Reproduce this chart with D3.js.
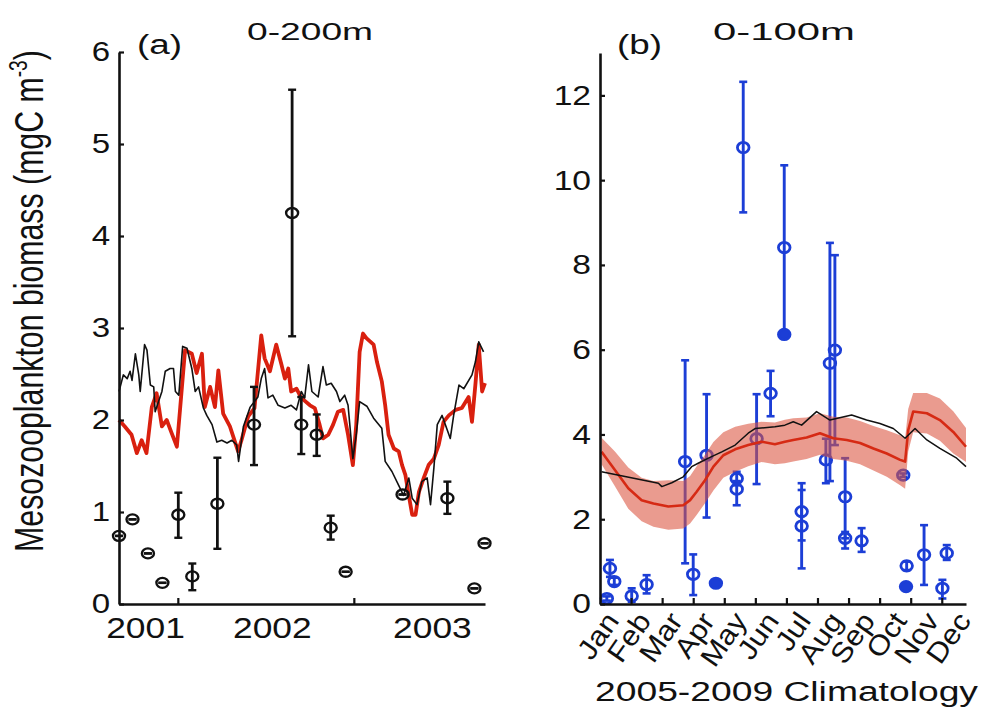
<!DOCTYPE html>
<html><head><meta charset="utf-8">
<script src="https://cdn.jsdelivr.net/npm/d3@7"></script>
<style>
body{margin:0;background:#fff}
svg text{font-family:"Liberation Sans",Arial,Helvetica,sans-serif;fill:#111}
</style></head>
<body><svg id="c" width="983" height="708"></svg>
<script>
// ---------- Panel (a): 0-200m time series ----------
const seriesStart = "2001-09-01";           // day 0 of the day offsets below
const yearTickDates = ["2002-01-01","2003-01-01"];
const yearLabels = ["2001","2002","2003"];
const yearLabelDates = ["2001-10-26","2002-07-16","2003-06-13"];
const yTicksA = [0,1,2,3,4,5,6];

const redDaysA = [0,12,26,37,47,57,68,78,89,99,109,120,127,137,151,161,172,178,189,199,206,216,230,247,254,268,281,295,302,313,326,337,344,351,357,368,378,396,406,416,423,434,444,454,465,475,485,492,499,506,513,528,535,545,552,559,570,580,587,594,601,608,615,622,632,642,653,663,673,684,698,711,725,732,739,746,753,759];
const redValsA = [2.00,1.93,1.84,1.64,1.78,1.64,2.14,2.29,1.93,2.00,1.86,1.71,2.14,2.76,2.72,2.51,2.72,2.14,2.36,2.14,2.54,2.07,1.93,1.66,1.78,2.04,2.13,2.92,2.67,2.53,2.82,2.60,2.45,2.56,2.31,2.34,2.24,2.16,2.13,1.95,1.80,1.84,1.95,2.09,2.11,1.84,1.51,1.95,2.74,2.94,2.89,2.82,2.63,2.42,2.16,1.84,1.69,1.66,1.51,1.40,1.18,0.97,0.97,1.22,1.37,1.51,1.58,1.73,1.98,2.05,2.11,2.13,2.25,1.98,2.38,2.82,2.31,2.40];

const blackDaysA = [0,9,17,23,27,34,41,44,53,58,65,72,75,82,89,96,106,113,117,124,132,141,151,158,165,175,182,193,203,213,224,234,244,248,258,272,288,295,302,309,319,330,344,357,368,378,385,393,400,413,423,430,440,451,458,468,475,485,492,499,514,528,545,552,566,580,590,601,608,618,628,639,646,653,660,670,687,694,705,715,732,739,746,756];
const blackValsA = [2.31,2.49,2.45,2.53,2.43,2.72,2.49,2.31,2.82,2.76,2.38,2.36,2.09,2.20,2.31,2.53,2.56,2.56,2.31,2.27,2.80,2.78,2.56,2.31,2.36,2.13,2.05,1.95,1.76,1.78,1.75,1.78,1.73,1.55,1.93,2.14,2.25,2.45,2.56,2.24,2.27,2.16,2.13,2.16,2.11,2.31,2.24,2.60,2.31,2.25,2.58,2.38,2.40,2.31,2.20,2.27,2.16,1.58,1.84,2.20,2.15,2.02,1.91,1.55,1.44,1.29,1.18,1.37,1.15,1.08,1.33,1.37,1.08,1.48,1.95,2.05,1.80,2.05,2.38,2.34,2.49,2.63,2.85,2.74];

const obsDaysA = [0,28,60,90,123,152,204,280,359,378,410,439,470,588,681,737,758];
const obsValsA = [0.74,0.92,0.55,0.23,0.97,0.30,1.09,1.95,4.25,1.95,1.84,0.83,0.35,1.19,1.15,0.17,0.66];
const obsLoA   = [0.74,0.92,0.55,0.23,0.72,0.15,0.60,1.51,2.91,1.63,1.61,0.70,0.35,1.19,0.98,0.17,0.66];
const obsHiA   = [0.74,0.92,0.55,0.23,1.21,0.44,1.59,2.36,5.59,2.25,2.06,0.96,0.35,1.19,1.33,0.17,0.66];

// ---------- Panel (b): 0-100m climatology (x in months from 1 Jan) ----------
const monthLabels = ["Jan","Feb","Mar","Apr","May","Jun","Jul","Aug","Sep","Oct","Nov","Dec"];
const monthTicks = [1,2,3,4,5,6,7,8,9,10,11];
const yTicksB = [0,2,4,6,8,10,12];

const climMonths = [0.05,0.48,0.91,1.34,1.72,2.20,2.68,2.90,3.11,3.38,3.65,3.97,4.35,4.77,5.20,5.63,5.95,6.22,6.65,7.08,7.51,7.94,8.37,8.80,9.23,9.66,9.82,9.92,10.08,10.52,10.94,11.37,11.78];
const climMean  = [3.59,3.16,2.73,2.45,2.37,2.30,2.33,2.45,2.65,2.92,3.24,3.51,3.65,3.75,3.83,3.77,3.83,3.87,3.93,4.03,3.91,3.87,3.80,3.67,3.55,3.40,3.36,4.10,4.54,4.50,4.34,4.06,3.71];
const climUpper = [3.92,3.60,3.22,2.98,2.90,2.92,2.90,3.02,3.25,3.52,3.82,4.05,4.18,4.25,4.30,4.28,4.35,4.38,4.40,4.50,4.42,4.40,4.32,4.20,4.10,3.98,3.90,4.60,4.98,4.98,4.85,4.55,4.15];
const climLower = [3.30,2.78,2.25,1.95,1.82,1.75,1.78,1.90,2.10,2.38,2.68,2.98,3.12,3.25,3.35,3.30,3.32,3.36,3.42,3.52,3.42,3.38,3.30,3.15,3.00,2.80,2.72,3.60,4.05,4.02,3.85,3.55,3.35];

const climBlackMonths = [0.05,1.88,1.99,2.31,2.68,2.95,3.16,3.49,3.92,4.35,4.77,4.99,5.63,5.95,6.22,6.49,6.97,7.40,8.10,8.58,9.01,9.44,9.82,10.14,10.52,10.94,11.48,11.78];
const climBlack = [3.12,2.85,2.77,2.86,3.00,3.24,3.32,3.44,3.59,3.75,4.03,4.14,4.18,4.22,4.30,4.22,4.54,4.34,4.46,4.34,4.26,4.14,3.91,4.14,3.87,3.67,3.44,3.24];

const ptMonthB = [0.22,0.32,0.46,1.02,1.50,2.74,3.00,3.43,3.73,4.40,4.40,4.61,5.04,5.49,5.93,5.93,6.49,6.49,7.27,7.40,7.56,7.89,7.89,8.42,9.76,9.87,9.85,10.43,11.02,11.16];
const ptValB   = [0.13,0.84,0.53,0.19,0.46,3.36,0.70,3.51,0.49,2.96,2.71,10.77,3.90,4.97,8.41,6.36,2.18,1.84,3.40,5.68,5.99,2.53,1.55,1.49,3.04,0.90,0.41,1.16,0.37,1.20];
const ptLoB    = [0.08,0.64,0.45,0.05,0.25,0.96,0.21,2.04,0.49,2.80,2.33,9.24,2.83,4.43,6.34,6.36,0.84,1.50,2.85,2.90,3.75,1.55,1.31,1.23,3.00,0.80,0.41,0.45,0.13,1.04];
const ptHiB    = [0.18,1.04,0.62,0.37,0.68,5.75,1.17,4.95,0.49,3.12,2.90,12.32,4.95,5.50,10.35,6.36,2.85,2.69,3.90,8.52,8.23,3.44,1.70,1.79,3.08,1.00,0.41,1.86,0.57,1.39];
const ptFilledB= [0,0,0,0,0,0,0,0,1,0,0,0,0,0,0,1,0,0,0,0,0,0,0,0,0,0,1,0,0,0];

// ---------- drawing ----------
const svg = d3.select("#c");
const parse = d3.timeParse("%Y-%m-%d");
const t0 = parse(seriesStart);
const dayDate = d => d3.timeDay.offset(t0, d);

function stretch(sel, k){
  sel.each(function(){
    const w = this.getComputedTextLength();
    d3.select(this).attr("textLength", w*k).attr("lengthAdjust","spacingAndGlyphs");
  });
}
function fitWidth(sel, target){
  sel.attr("textLength", target).attr("lengthAdjust","spacingAndGlyphs");
}
function styleAxis(g){
  g.select(".domain").attr("stroke","#111").attr("stroke-width",2.6);
  g.selectAll(".tick line").attr("stroke","#111").attr("stroke-width",2.2);
  g.selectAll(".tick text").style("font-size","28px").attr("fill","#111");
}

// Panel A scales
const xA = d3.scaleTime().domain([t0, dayDate(759)]).range([119,485]);
const yA = d3.scaleLinear().domain([0,6]).range([604,52]);

const gA = svg.append("g");
const lineA = (days, vals) => d3.line().x((d,i)=>xA(dayDate(days[i]))).y(d=>yA(d))(vals);
gA.append("path").attr("d", lineA(redDaysA, redValsA)).attr("fill","none")
  .attr("stroke","#d9200f").attr("stroke-width",3.8).attr("stroke-linejoin","round");
gA.append("path").attr("d", lineA(blackDaysA, blackValsA)).attr("fill","none")
  .attr("stroke","#111").attr("stroke-width",1.6).attr("stroke-linejoin","round");

const ptsA = gA.append("g").selectAll("g").data(obsValsA).join("g");
ptsA.append("line").attr("x1",(d,i)=>xA(dayDate(obsDaysA[i]))).attr("x2",(d,i)=>xA(dayDate(obsDaysA[i])))
  .attr("y1",(d,i)=>yA(obsLoA[i])).attr("y2",(d,i)=>yA(obsHiA[i])).attr("stroke","#111").attr("stroke-width",2.8);
[obsLoA, obsHiA].forEach(arr=>{
  ptsA.append("line").attr("x1",(d,i)=>xA(dayDate(obsDaysA[i]))-4).attr("x2",(d,i)=>xA(dayDate(obsDaysA[i]))+4)
    .attr("y1",(d,i)=>yA(arr[i])).attr("y2",(d,i)=>yA(arr[i])).attr("stroke","#111").attr("stroke-width",2.4);
});
ptsA.append("ellipse").attr("cx",(d,i)=>xA(dayDate(obsDaysA[i]))).attr("cy",d=>yA(d))
  .attr("rx",6).attr("ry",5).attr("fill","none").attr("stroke","#111").attr("stroke-width",2.4);

const axYA = gA.append("g").attr("transform","translate(119,0)")
  .call(d3.axisLeft(yA).tickValues(yTicksA).tickFormat(d3.format("d")).tickSizeInner(-5).tickSizeOuter(0).tickPadding(9));
styleAxis(axYA); stretch(axYA.selectAll(".tick text"), 1.18);
const axXA = gA.append("g").attr("transform","translate(0,604)")
  .call(d3.axisBottom(xA).tickValues(yearTickDates.map(parse)).tickFormat("").tickSizeInner(-6).tickSizeOuter(0));
styleAxis(axXA);
gA.append("g").selectAll("text").data(yearLabels).join("text")
  .attr("x",(d,i)=>xA(parse(yearLabelDates[i]))).attr("y",638).attr("text-anchor","middle")
  .style("font-size","29px").text(d=>d).call(s=>stretch(s,1.22));

svg.append("text").attr("x",310).attr("y",40).attr("text-anchor","middle").style("font-size","24px")
  .text("0-200m").call(s=>fitWidth(s,126));
svg.append("text").attr("x",159.5).attr("y",54).attr("text-anchor","middle").style("font-size","27px")
  .text("(a)").call(s=>fitWidth(s,45));

const yl = svg.append("text").attr("text-anchor","middle").style("font-size","41px");
yl.append("tspan").text("Mesozooplankton biomass (mgC m");
yl.append("tspan").text("-3").style("font-size","26px").attr("dy",-16);
yl.append("tspan").text(")").attr("dy",16);
{
  const w = yl.node().getComputedTextLength();
  const k = 502 / w;
  yl.attr("transform",`translate(43,301) rotate(-90) scale(${k},1)`);
}

// Panel B
const xB = d3.scaleLinear().domain([0,11.78]).range([600,966]);
const yB = d3.scaleLinear().domain([0,13]).range([604,53]);
const gB = svg.append("g");
const blue = "#1c3ed6";

const ptsB = gB.append("g").selectAll("g").data(ptValB).join("g");
ptsB.append("line").attr("x1",(d,i)=>xB(ptMonthB[i])).attr("x2",(d,i)=>xB(ptMonthB[i]))
  .attr("y1",(d,i)=>yB(ptLoB[i])).attr("y2",(d,i)=>yB(ptHiB[i])).attr("stroke",blue).attr("stroke-width",2.9);
[ptLoB, ptHiB].forEach(arr=>{
  ptsB.append("line").attr("x1",(d,i)=>xB(ptMonthB[i])-4).attr("x2",(d,i)=>xB(ptMonthB[i])+4)
    .attr("y1",(d,i)=>yB(arr[i])).attr("y2",(d,i)=>yB(arr[i])).attr("stroke",blue).attr("stroke-width",2.6);
});
ptsB.append("ellipse").attr("cx",(d,i)=>xB(ptMonthB[i])).attr("cy",d=>yB(d))
  .attr("rx",5.8).attr("ry",5.2).attr("fill",(d,i)=>ptFilledB[i]?blue:"none").attr("stroke",blue).attr("stroke-width",2.8);

gB.append("path").attr("d", d3.area().x((d,i)=>xB(climMonths[i])).y0((d,i)=>yB(climLower[i])).y1(d=>yB(d))(climUpper))
  .attr("fill","rgb(218,82,62)").attr("fill-opacity",0.58).attr("stroke","none");
gB.append("path").attr("d", d3.line().x((d,i)=>xB(climMonths[i])).y(d=>yB(d))(climMean))
  .attr("fill","none").attr("stroke","#d62a14").attr("stroke-width",2.6).attr("stroke-linejoin","round");
gB.append("path").attr("d", d3.line().x((d,i)=>xB(climBlackMonths[i])).y(d=>yB(d))(climBlack))
  .attr("fill","none").attr("stroke","#111").attr("stroke-width",1.5).attr("stroke-linejoin","round");

const axYB = gB.append("g").attr("transform","translate(600,0)")
  .call(d3.axisLeft(yB).tickValues(yTicksB).tickFormat(d3.format("d")).tickSizeInner(-5).tickSizeOuter(0).tickPadding(9));
styleAxis(axYB); stretch(axYB.selectAll(".tick text"), 1.2);
const axXB = gB.append("g").attr("transform","translate(0,604)")
  .call(d3.axisBottom(xB).tickValues(monthTicks).tickFormat("").tickSizeInner(-6).tickSizeOuter(0));
styleAxis(axXB);
const xLab = d3.scalePoint().domain(monthLabels).range([620,972]);
gB.append("g").selectAll("text").data(monthLabels).join("text")
  .attr("text-anchor","end").style("font-size","28px")
  .attr("transform",d=>`translate(${xLab(d)},621) rotate(-55)`).text(d=>d)
  .call(s=>stretch(s,1.1));

svg.append("text").attr("x",784).attr("y",40).attr("text-anchor","middle").style("font-size","24px")
  .text("0-100m").call(s=>fitWidth(s,142));
svg.append("text").attr("x",639.5).attr("y",54).attr("text-anchor","middle").style("font-size","27px")
  .text("(b)").call(s=>fitWidth(s,45));
svg.append("text").attr("x",786.5).attr("y",701).attr("text-anchor","middle").style("font-size","27px")
  .text("2005-2009 Climatology").call(s=>fitWidth(s,383));
</script></body></html>
